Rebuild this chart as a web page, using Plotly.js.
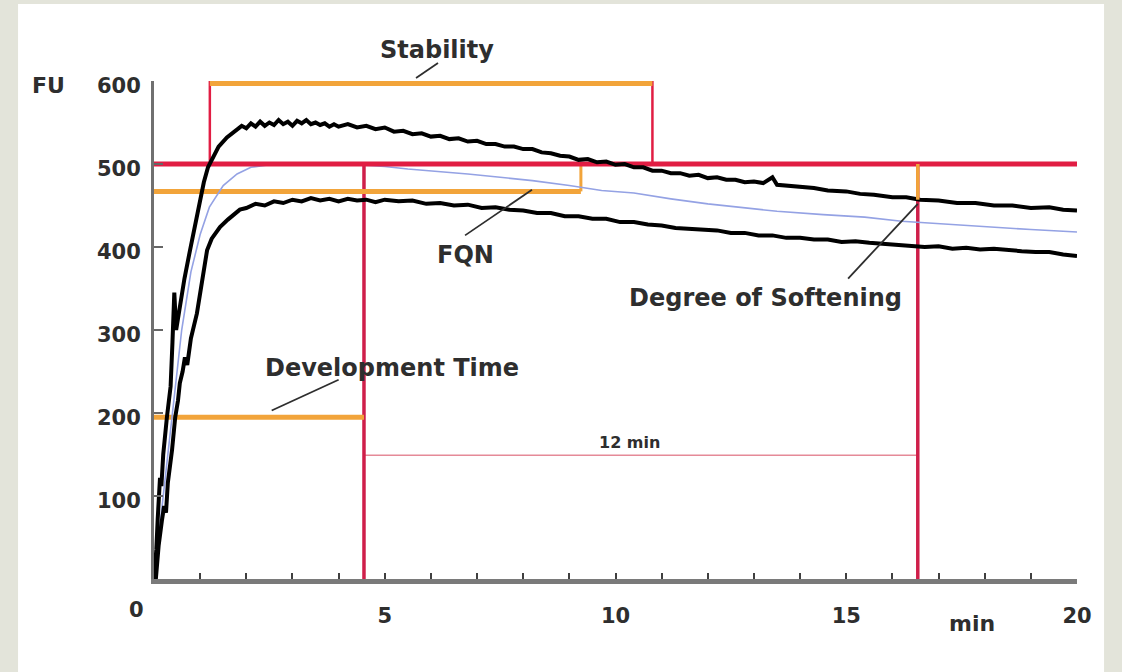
<!DOCTYPE html>
<html>
<head>
<meta charset="utf-8">
<script src="https://cdn.plot.ly/plotly-3.0.1.min.js"></script>
<style>html,body{margin:0;padding:0;background:#e3e4da;}#chart{width:1122px;height:672px;}</style>
</head>
<body>
<div id="chart"></div>
<script>
// ---- Data ----
const upperX = [0,0.05,0.08,0.1,0.13,0.16,0.2,0.28,0.36,0.4,0.44,0.48,0.56,0.66,0.78,0.9,1.0,1.08,1.17,1.28,1.4,1.58,1.75,1.9,2.0,2.1,2.2,2.3,2.4,2.5,2.6,2.7,2.8,2.9,3.0,3.1,3.2,3.3,3.4,3.5,3.6,3.7,3.8,3.9,4.0,4.2,4.4,4.6,4.8,5.0,5.2,5.4,5.6,5.8,6.0,6.2,6.4,6.6,6.8,7.0,7.2,7.4,7.6,7.8,8.0,8.2,8.4,8.6,8.8,9.0,9.2,9.4,9.6,9.8,10.0,10.2,10.4,10.6,10.8,11.0,11.2,11.4,11.6,11.8,12.0,12.2,12.4,12.6,12.8,13.0,13.2,13.4,13.5,13.7,14.0,14.3,14.6,15.0,15.3,15.6,16.0,16.3,16.6,17.0,17.4,17.8,18.2,18.6,19.0,19.4,19.7,20.0];
const upperY = [0,35,72,100,122,112,150,195,232,285,345,300,328,362,396,430,457,478,496,508,521,532,540,546,543,549,545,551,546,550,547,553,548,551,546,552,549,553,548,550,547,549,545,548,545,548,544,546,542,544,539,540,536,537,533,534,530,531,527,528,524,524,521,521,518,518,514,513,510,509,505,506,502,503,499,500,496,496,492,492,489,489,486,487,483,484,481,481,478,479,477,484,475,474,472,471,468,467,464,463,460,460,457,456,453,453,450,450,447,448,445,444];

const lowerX = [0.04,0.1,0.17,0.22,0.26,0.3,0.39,0.46,0.52,0.56,0.62,0.67,0.72,0.8,0.93,1.05,1.15,1.25,1.43,1.6,1.86,2.0,2.2,2.4,2.6,2.8,3.0,3.2,3.4,3.6,3.8,4.0,4.2,4.4,4.6,4.8,5.0,5.3,5.6,5.9,6.2,6.5,6.8,7.1,7.4,7.7,8.0,8.3,8.6,8.9,9.2,9.5,9.8,10.1,10.4,10.7,11.0,11.3,11.6,11.9,12.2,12.5,12.8,13.1,13.4,13.7,14.0,14.3,14.6,14.9,15.2,15.5,15.8,16.1,16.4,16.7,17.0,17.3,17.6,17.9,18.2,18.5,18.8,19.1,19.4,19.7,20.0];
const lowerY = [0,40,70,88,80,116,155,195,215,236,250,267,258,290,320,360,396,410,424,433,445,447,452,450,455,453,457,455,459,456,458,455,458,456,457,454,457,455,456,452,453,450,451,447,448,445,444,441,441,437,437,434,434,430,430,427,426,423,422,420,420,417,417,414,414,411,411,409,409,406,407,405,404,402,402,400,401,398,399,397,398,396,395,394,394,391,389];

const centerX = [0,0.3,0.6,0.8,1.0,1.2,1.5,1.8,2.1,2.5,3.0,3.5,4.0,4.5,5.0,5.5,6.2,6.8,7.5,8.2,9.0,9.7,10.4,11.2,12.0,12.5,13.5,14.5,15.4,16.2,17.0,18.0,19.0,20.0];
const centerY = [0,150,300,370,415,448,474,488,496,499,500,500,500,499,497,494,491,488,484,480,474,468,465,458,452,449,443,439,436,431,428,425,421,418];

// Evaluation markers (minutes / FU)
const consistencyLine = 500;
const stabilityStart = 1.21, stabilityEnd = 10.8, stabilityBar = 597;
const fqnTime = 9.25, fqnLevel = 467;
const devTime = 4.55, devBar = 195;
const softeningTime = 16.55, softeningLevel = 457;
const twelveMinLevel = 149;

// Axis ticks
const xTickVals = [0,1,2,3,4,5,6,7,8,9,10,11,12,13,14,15,16,17,18,19,20];
const xTickLabels = {5:'5',10:'10',15:'15',20:'20'};
const yTickVals = [100,200,300,400,500,600];
const yTickLabels = ['100','200','300','400','500','600'];

const RED = '#e11d43', RED2 = '#cf1f4a', ORANGE = '#f2a43a', INK = '#2e2e2e';
const FONT = 'DejaVu Sans';

const traces = [
  {x: centerX, y: centerY, mode:'lines', line:{color:'#94a2e4', width:1.6}, hoverinfo:'skip'},
  {x: [0, 20], y: [consistencyLine, consistencyLine], mode:'lines', line:{color:RED, width:5}, hoverinfo:'skip'},
  {x: upperX, y: upperY, mode:'lines', line:{color:'#000000', width:4}, hoverinfo:'skip'},
  {x: lowerX, y: lowerY, mode:'lines', line:{color:'#000000', width:4}, hoverinfo:'skip'}
];

function seg(x0,y0,x1,y1,color,width,layer){
  return {type:'line', xref:'x', yref:'y', x0:x0, y0:y0, x1:x1, y1:y1, line:{color:color, width:width}, layer: layer||'below'};
}

const shapes = [
  // white panel
  {type:'rect', xref:'paper', yref:'paper', x0:-0.1473, x1:1.0293, y0:-0.19, y1:1.1546, fillcolor:'#ffffff', line:{width:0}, layer:'below'},
  // 12 min span
  seg(devTime, twelveMinLevel, softeningTime, twelveMinLevel, '#e58a98', 1.5),
  // verticals
  seg(devTime, 0, devTime, consistencyLine, RED2, 3.5),
  seg(softeningTime, 0, softeningTime, consistencyLine, RED2, 3.5),
  seg(stabilityStart, consistencyLine, stabilityStart, 600, RED, 2.5),
  seg(stabilityEnd, consistencyLine, stabilityEnd, 600, RED, 2.5),
  // orange bars
  seg(stabilityStart, stabilityBar, stabilityEnd, stabilityBar, ORANGE, 5),
  seg(0, fqnLevel, fqnTime, fqnLevel, ORANGE, 5),
  seg(fqnTime, fqnLevel, fqnTime, consistencyLine, ORANGE, 3),
  seg(0, devBar, devTime, devBar, ORANGE, 5),
  seg(softeningTime, softeningLevel, softeningTime, consistencyLine, ORANGE, 3.5, 'above'),
  // leader lines
  {type:'line', xref:'paper', yref:'paper', x0:0.3077, y0:1.036, x1:0.2839, y1:1.006, line:{color:INK, width:1.8}, layer:'above'},
  seg(6.74, 414, 8.19, 469, INK, 1.8, 'above'),
  seg(15.04, 362, 16.55, 452, INK, 1.8, 'above'),
  seg(2.55, 203, 4.0, 240, INK, 1.8, 'above')
];

function label(text, x, y, size, xref, yref){
  return {text:text, x:x, y:y, xref:xref||'x', yref:yref||'y', showarrow:false,
          font:{family:FONT, size:size, color:INK, weight:'bold'}, xanchor:'center', yanchor:'middle'};
}

const annotations = [
  label('Stability', 6.13, 1.062, 24, 'x', 'paper'),
  label('FQN', 6.76, 390, 24),
  label('Degree of Softening', 13.24, 338, 24),
  label('Development Time', 5.16, 254, 24),
  label('12 min', 10.3, 164, 16),
  label('FU', -0.114, 0.99, 22, 'paper', 'paper'),
  label('min', 17.72, -0.09, 22, 'x', 'paper'),
  Object.assign(label('0', 0, -0.062, 21, 'x', 'paper'), {xshift:-18})
];

const layout = {
  width:1122, height:672,
  margin:{l:154, r:45, t:81, b:93, pad:0},
  paper_bgcolor:'#e3e4da',
  plot_bgcolor:'#ffffff',
  showlegend:false,
  xaxis:{
    range:[0,20], tickmode:'array', tickvals:xTickVals,
    ticktext:xTickVals.map(v => xTickLabels[v] || ''),
    ticks:'inside', ticklen:6, tickwidth:2, tickcolor:'#404040',
    showline:true, linecolor:'#7a7a7a', linewidth:5,
    showgrid:false, zeroline:false, fixedrange:true,
    ticklabelstandoff:14,
    tickfont:{family:FONT, size:21, color:INK, weight:'bold'}
  },
  yaxis:{
    range:[0,600], tickmode:'array', tickvals:yTickVals, ticktext:yTickLabels,
    ticks:'inside', ticklen:9, tickwidth:1.5, tickcolor:'#666666',
    showline:true, linecolor:'#707070', linewidth:3,
    showgrid:false, zeroline:false, fixedrange:true,
    ticklabelstandoff:6, ticklabelshift:5,
    tickfont:{family:FONT, size:21, color:INK, weight:'bold'}
  },
  shapes:shapes,
  annotations:annotations
};

Plotly.newPlot('chart', traces, layout, {displayModeBar:false, staticPlot:true});
</script>
</body>
</html>
